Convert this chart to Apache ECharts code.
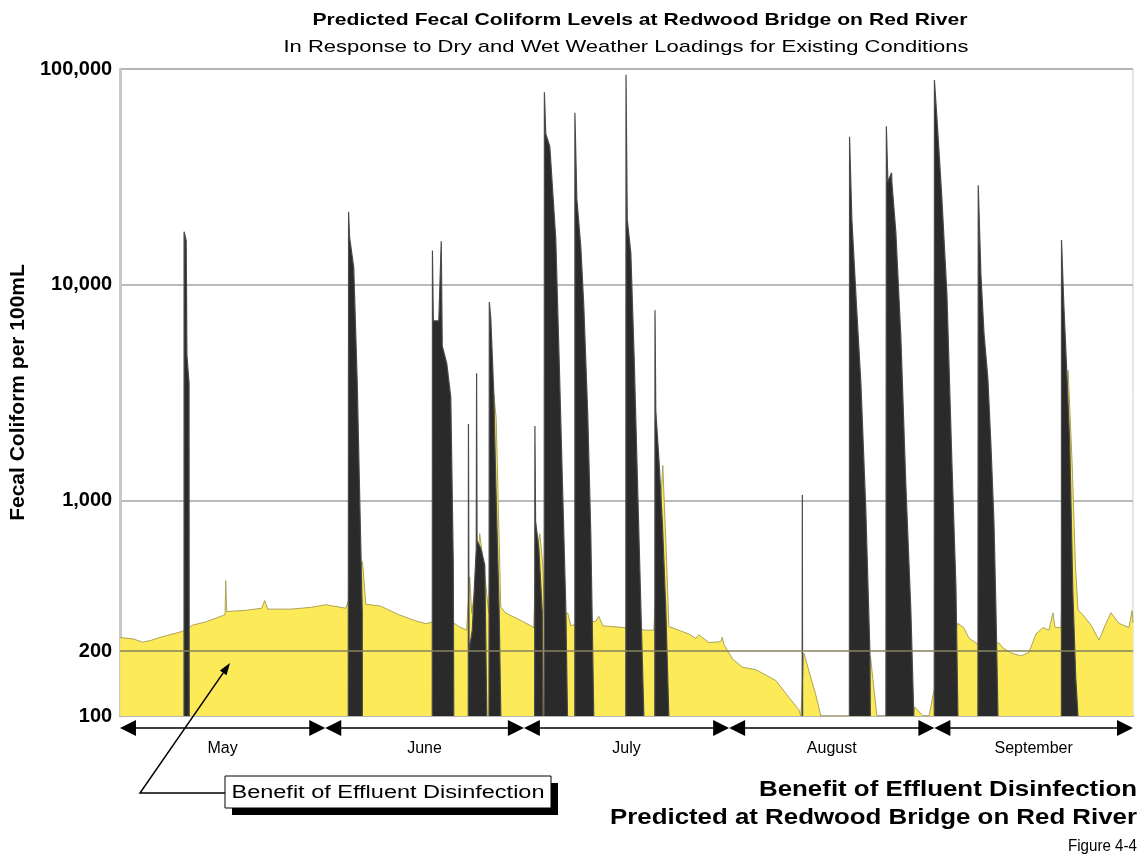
<!DOCTYPE html>
<html>
<head>
<meta charset="utf-8">
<script src="https://cdn.jsdelivr.net/npm/echarts/dist/echarts.min.js"></script>
<style>
html,body{margin:0;padding:0;background:#fff;}
#main{width:1144px;height:858px;}
</style>
</head>
<body>
<div id="main"></div>
<script>
// ---------------- DATA ----------------
// x values are days since May 1 (0 = May 1, 153 = Oct 1)
const months = ['May', 'June', 'July', 'August', 'September'];
const monthStartDays = [0, 31, 61, 92, 123, 153];
const referenceLevel = 200;           // extra labelled grid line
const yMin = 100, yMax = 100000;

// Dry-weather / background levels (yellow area) [day, cfu/100mL]
const dryWeather = [
  [0,231],[1.89,228],[3.40,220],[4.61,224],[6.12,232],[9.44,247],[10.96,264],[12.92,273],
  [15.47,292],[15.84,295],[15.94,424],[16.09,305],[16.24,302],[18.96,309],[21.38,316],[21.83,343],
  [22.29,313],[25.75,313],[28.79,319],[31.05,328],[34.08,316],[36.60,520],[37.10,330],[39.37,323],
  [42.08,295],[44.65,276],[46.16,268],[47.07,272],[50.38,270],[51.13,260],[52.34,250],[52.80,440],
  [53.10,300],[53.55,380],[54.31,700],[54.91,500],[55.37,370],[55.67,300],[56.45,3100],[56.80,2400],
  [57.10,1000],[57.49,320],[58.25,300],[60.77,275],[62.48,257],[62.78,545],[63.39,700],[63.84,500],
  [64.07,300],[67.62,300],[68.07,262],[68.53,265],[71.85,275],[72.30,290],[72.91,262],[76.08,257],
  [79.40,250],[80.61,250],[81.97,1450],[82.57,500],[82.88,260],[85.90,240],[86.96,229],[87.41,238],
  [88.92,219],[90.73,221],[90.96,232],[91.19,215],[92.55,183],[94.06,168],[96.03,164],[99.05,146],
  [101.01,122],[102.52,107],[102.83,100],[103.05,100],[103.28,196],[104.34,150],[105.09,125],[105.85,100],
  [113.09,100],[113.33,190],[114.31,100],[119.75,100],[120.05,110],[121.26,100],[122.20,100],[122.90,130],
  [126.55,269],[127.46,256],[128.21,230],[129.57,215],[132.74,218],[133.35,207],[134.56,196],[136.07,190],
  [137.28,197],[138.34,240],[139.40,257],[140.30,250],[140.91,301],[141.21,258],[142.12,257],[143.20,4000],
  [143.80,1500],[144.30,500],[144.69,310],[145.45,294],[146.66,264],[147.87,225],[148.92,269],[149.67,301],
  [150.88,269],[152.39,257],[152.85,308],[153,270]
];

// Wet-weather events (dark spikes), each [day, cfu/100mL]
const eventMay18  = [[9.64,100],[9.65,17600],[9.97,16000],[10.08,4700],[10.40,3500],[10.43,100]];
const eventJun4   = [[34.45,100],[34.50,21800],[34.65,16600],[35.28,12000],[35.81,3500],[36.19,1000],[36.57,300],[36.58,100]];
const eventJun17  = [[47.14,100],[47.17,14400],[47.30,6800],[48.13,6800],[48.50,15900],[48.65,5200],[49.34,4300],[49.94,3000],[50.32,500],[50.39,100]];
const eventJun23  = [[52.58,100],[52.61,2260],[52.70,200],[53.19,250],[53.79,600],[53.84,3880],[53.91,650],[54.47,600],[55.08,500],[55.38,100]];
const eventJun26  = [[55.71,100],[55.76,8300],[55.98,7000],[56.44,3100],[56.74,1200],[57.24,314],[57.50,100]];
const eventJul3   = [[62.60,100],[62.65,2210],[62.75,800],[63.24,600],[63.77,300],[63.84,100]];
const eventJul5   = [[64.04,100],[64.08,78000],[64.29,50000],[64.90,43700],[65.80,16300],[66.30,4600],[66.81,1200],[67.32,314],[67.57,100]];
const eventJul9   = [[68.68,100],[68.69,62600],[68.98,25000],[69.58,15000],[70.03,8000],[70.63,2500],[71.09,700],[71.54,100]];
const eventJul16  = [[76.38,100],[76.41,94000],[76.60,20000],[77.14,14000],[77.64,4600],[78.15,1200],[78.66,314],[79.11,100]];
const eventJul21  = [[80.76,100],[80.79,7600],[80.91,2600],[81.41,1500],[81.92,770],[82.42,314],[82.88,100]];
const eventAug12  = [[103.02,100],[103.05,1060],[103.09,100]];
const eventAug19  = [[110.15,100],[110.18,48500],[110.53,20000],[111.28,7500],[111.89,3500],[112.64,900],[113.25,200],[113.33,100]];
const eventAug25  = [[115.67,100],[115.74,54200],[115.97,30000],[116.53,33000],[116.57,30000],[117.17,17600],[117.93,5700],[118.68,1190],[119.44,308],[119.89,100]];
const eventSep1   = [[122.97,100],[123.00,89000],[123.37,60000],[124.13,25000],[124.89,9000],[125.64,1500],[126.25,400],[126.55,100]];
const eventSep8   = [[129.57,100],[129.62,28900],[130.02,11200],[130.48,6000],[131.08,3650],[131.54,1800],[131.99,800],[132.30,308],[132.60,100]];
const eventSep20  = [[142.18,100],[142.20,16100],[142.54,8200],[142.99,3990],[143.44,1860],[143.90,385],[144.35,150],[144.69,100]];
const wetWeatherEvents = [eventMay18, eventJun4, eventJun17, eventJun23, eventJun26, eventJul3, eventJul5,
  eventJul9, eventJul16, eventJul21, eventAug12, eventAug19, eventAug25, eventSep1, eventSep8, eventSep20];

// ---------------- CHART ----------------
const FONT = '"Liberation Sans", Arial, Helvetica, sans-serif';
const wetData = [];
wetWeatherEvents.forEach((ev, i) => {
  if (i > 0) wetData.push([ev[0][0], null]);   // gap between events
  ev.forEach(p => wetData.push(p));
});

const mctx = document.createElement('canvas').getContext('2d');
function fitText(text, font, width, x, y, align) {
  mctx.font = font;
  const s = width / mctx.measureText(text).width;
  return {
    type: 'text', x: x, y: y, scaleX: s, z: 100,
    style: { text: text, font: font, fill: '#000', textAlign: align, textVerticalAlign: 'middle',
             align: align, verticalAlign: 'middle' }
  };
}

const arrowHead = 16;                 // px
const tipInset = (arrowHead / 2) / 6.62; // half arrow-head, in days
const arrowData = months.map((m, i) => [
  { name: m, coord: [monthStartDays[i] + tipInset, 0.5] },
  { coord: [monthStartDays[i + 1] - tipInset, 0.5] }
]);

const chart = echarts.init(document.getElementById('main'));
chart.setOption({
  animation: false,
  backgroundColor: '#ffffff',
  grid: [
    { left: 120, right: 11, top: 69, bottom: 142, show: true, borderColor: '#cfcfcf', borderWidth: 1 },
    { left: 120, right: 11, top: 718, height: 20 }
  ],
  xAxis: [
    { type: 'value', gridIndex: 0, min: 0, max: 153,
      axisLine: { show: true, onZero: false, lineStyle: { color: '#b8b8b8', width: 2 } },
      axisTick: { show: false }, axisLabel: { show: false }, splitLine: { show: false } },
    { type: 'value', gridIndex: 1, min: 0, max: 153, show: false }
  ],
  yAxis: [
    { type: 'log', logBase: 10, gridIndex: 0, min: yMin, max: yMax,
      name: 'Fecal Coliform per 100mL', nameLocation: 'middle', nameGap: 84,
      nameTextStyle: { fontFamily: FONT, fontWeight: 'bold', fontSize: 21, color: '#000' },
      axisLine: { show: true, lineStyle: { color: '#c8c8c8', width: 3 } },
      axisTick: { show: false },
      axisLabel: { margin: 8, fontFamily: FONT, fontWeight: 'bold', fontSize: 20, color: '#000',
                   formatter: v => Math.round(v).toLocaleString('en-US') },
      splitLine: { show: true, lineStyle: { color: '#a3a3a3', width: 1.5 } } },
    { type: 'value', gridIndex: 1, min: 0, max: 1, show: false }
  ],
  series: [
    { name: 'Dry weather', type: 'line', xAxisIndex: 0, yAxisIndex: 0, data: dryWeather,
      showSymbol: false, symbol: 'none', silent: true, z: 2,
      lineStyle: { color: '#aaa35a', width: 1 },
      areaStyle: { color: '#fdea58', opacity: 1, origin: 'start' },
      markLine: { silent: true, symbol: 'none', animation: false,
        lineStyle: { color: '#86825e', width: 1.5, type: 'solid' },
        label: { show: true, position: 'start', distance: 8, formatter: String(referenceLevel),
                 fontFamily: FONT, fontWeight: 'bold', fontSize: 20, color: '#000' },
        data: [{ yAxis: referenceLevel }] } },
    { name: 'Wet weather', type: 'line', xAxisIndex: 0, yAxisIndex: 0, data: wetData,
      connectNulls: false, showSymbol: false, symbol: 'none', silent: true, z: 3,
      lineStyle: { color: '#4a4a4a', width: 1.2 },
      areaStyle: { color: '#2a2a2a', opacity: 1, origin: 'start' } },
    { name: 'Months', type: 'line', xAxisIndex: 1, yAxisIndex: 1, data: [], silent: true,
      markLine: { silent: true, animation: false, symbol: ['triangle', 'triangle'], symbolSize: arrowHead,
        lineStyle: { color: '#000', width: 1.5, type: 'solid' },
        label: { show: true, position: 'insideMiddleBottom', distance: 13, formatter: '{b}',
                 fontFamily: FONT, fontSize: 16, color: '#000' },
        data: arrowData } }
  ],
  graphic: [
    fitText('Predicted Fecal Coliform Levels at Redwood Bridge on Red River', 'bold 17px ' + FONT, 655, 640, 20, 'center'),
    fitText('In Response to Dry and Wet Weather Loadings for Existing Conditions', '17px ' + FONT, 685, 626, 47, 'center'),
    fitText('Benefit of Effluent Disinfection', 'bold 22px ' + FONT, 378, 1137, 790, 'right'),
    fitText('Predicted at Redwood Bridge on Red River', 'bold 22px ' + FONT, 527, 1137, 818, 'right'),
    fitText('Figure 4-4', '17px ' + FONT, 69, 1137, 846, 'right'),
    { type: 'rect', z: 98, shape: { x: 232, y: 783, width: 326, height: 32 }, style: { fill: '#000' } },
    { type: 'rect', z: 99, shape: { x: 225, y: 776, width: 326, height: 32 }, style: { fill: '#fff', stroke: '#000', lineWidth: 1 } },
    fitText('Benefit of Effluent Disinfection', '18px ' + FONT, 313, 388, 793, 'center'),
    { type: 'polyline', z: 99, shape: { points: [[225, 793], [140, 793], [223.2, 672.9]] },
      style: { stroke: '#000', lineWidth: 1.5, fill: null } },
    { type: 'polygon', z: 99, shape: { points: [[230, 663], [226.5, 675.2], [219.9, 670.6]] },
      style: { fill: '#000' } }
  ]
});
</script>
</body>
</html>
